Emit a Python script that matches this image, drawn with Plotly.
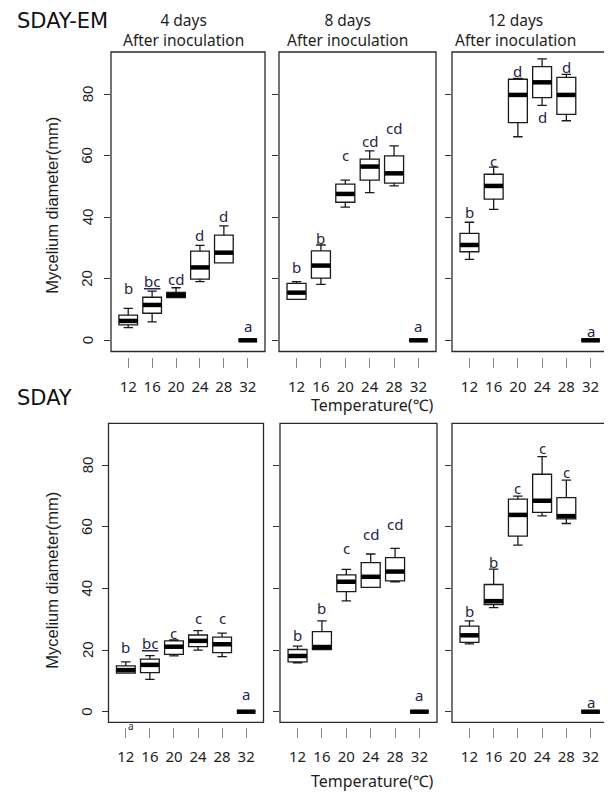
import plotly.graph_objects as go

# page is shown with an 8px body margin; build the figure to fill the visible area
PAGE_W, PAGE_H = 612, 793
OFF = 8
W, H = PAGE_W - OFF, PAGE_H - OFF

positions = [1, 2, 3, 4, 5, 6]
tick_labels = ["12", "16", "20", "24", "28", "32"]
y_ticks = [0, 20, 40, 60, 80]
y_tick_labels = ["0", "20", "40", "60", "80"]

# ---- SDAY-EM ----
em4_low = [4.1, 6.0, 13.9, 19.1, 25.2, 0]
em4_q1 = [5.0, 8.8, 13.9, 19.9, 25.2, 0]
em4_med = [6.3, 11.5, 14.7, 23.7, 28.5, 0]
em4_q3 = [8.2, 14.0, 15.6, 29.0, 34.2, 0]
em4_high = [10.4, 16.0, 17.1, 30.9, 37.2, 0]
em4_letters = ["b", "bc", "cd", "d", "d", "a"]
em4_letter_y = [16.9, 19.4, 19.9, 34.2, 40.5, 4.7]

em8_low = [13.3, 18.2, 43.3, 48.0, 50.2, 0]
em8_q1 = [13.3, 20.2, 44.9, 52.1, 51.1, 0]
em8_med = [15.5, 24.3, 47.6, 56.5, 54.3, 0]
em8_q3 = [18.5, 29.1, 50.8, 58.9, 60.0, 0]
em8_high = [19.1, 31.0, 52.1, 61.6, 63.2, 0]
em8_letters = ["b", "b", "c", "cd", "cd", "a"]
em8_letter_y = [23.9, 33.2, 60.3, 64.9, 68.9, 4.6]

em12_low = [26.3, 42.6, 66.2, 76.4, 71.4, 0]
em12_q1 = [28.8, 45.9, 70.8, 78.9, 73.5, 0]
em12_med = [31.0, 50.2, 79.8, 83.9, 79.8, 0]
em12_q3 = [34.8, 54.0, 84.9, 89.0, 85.5, 0]
em12_high = [38.4, 56.3, 85.2, 91.5, 86.5, 0]
em12_letters = ["b", "c", "d", "d", "d", "a"]
em12_letter_y = [41.8, 58.4, 87.6, 72.5, 89.0, 3.0]

# ---- SDAY ----
sd4_low = [12.5, 10.5, 18.1, 20.0, 17.9, 0]
sd4_q1 = [12.5, 12.7, 18.6, 21.1, 19.2, 0]
sd4_med = [13.5, 15.2, 21.1, 23.0, 21.9, 0]
sd4_q3 = [14.9, 17.1, 23.0, 24.9, 24.2, 0]
sd4_high = [16.2, 18.2, 23.3, 26.3, 25.5, 0]
sd4_letters = ["b", "bc", "c", "c", "c", "a"]
sd4_letter_y = [21.1, 22.4, 25.5, 30.3, 30.3, 5.7]

sd8_low = [15.9, 20.2, 36.0, 40.4, 42.2, 0]
sd8_q1 = [16.2, 20.2, 39.0, 40.4, 42.5, 0]
sd8_med = [18.1, 21.0, 42.2, 43.8, 45.5, 0]
sd8_q3 = [20.2, 26.0, 44.4, 48.4, 50.0, 0]
sd8_high = [21.3, 29.5, 46.2, 51.2, 53.0, 0]
sd8_letters = ["b", "b", "c", "cd", "cd", "a"]
sd8_letter_y = [24.9, 33.8, 53.0, 57.6, 60.8, 5.4]

sd12_low = [22.0, 33.8, 54.1, 63.6, 61.1, 0]
sd12_q1 = [22.5, 34.8, 57.0, 64.7, 62.6, 0]
sd12_med = [24.8, 35.9, 63.9, 68.5, 63.5, 0]
sd12_q3 = [27.8, 41.3, 69.0, 77.1, 69.5, 0]
sd12_high = [29.5, 46.3, 70.0, 82.8, 75.2, 0]
sd12_letters = ["b", "b", "c", "c", "c", "a"]
sd12_letter_y = [32.7, 48.7, 72.5, 85.5, 77.7, 3.2]

panel_titles = ["4 days<br>After inoculation", "8 days<br>After inoculation",
                "12 days<br>After inoculation"]
row_titles = ["SDAY-EM", "SDAY"]
y_title = "Mycelium diameter(mm)"
x_title = "Temperature(℃)"

panels = [
    (em4_low, em4_q1, em4_med, em4_q3, em4_high, em4_letters, em4_letter_y),
    (em8_low, em8_q1, em8_med, em8_q3, em8_high, em8_letters, em8_letter_y),
    (em12_low, em12_q1, em12_med, em12_q3, em12_high, em12_letters, em12_letter_y),
    (sd4_low, sd4_q1, sd4_med, sd4_q3, sd4_high, sd4_letters, sd4_letter_y),
    (sd8_low, sd8_q1, sd8_med, sd8_q3, sd8_high, sd8_letters, sd8_letter_y),
    (sd12_low, sd12_q1, sd12_med, sd12_q3, sd12_high, sd12_letters, sd12_letter_y),
]

# layout geometry in page pixels
x_frames = [[(111, 265), (279, 436), (452, 608)],
            [(108.5, 263.5), (280, 437), (452, 608)]]
y_frames = [(52, 351.5), (423.3, 722.3)]
y_ranges = [(-3.64, 93.76), (-3.44, 93.64)]


def px(x):
    return (x - OFF) / W


def py(y):
    return 1 - (y - OFF) / H


LINE = "#1a1a1a"
TXT = "#1e1e1e"
LETTER = "#25254a"
SANS = "Noto Sans, Open Sans, sans-serif"
ARIAL = "Liberation Sans, Arial, sans-serif"

fig = go.Figure()
layout = {}
annotations = []
shapes = []

for i, (lo, q1, med, q3, hi, letters, ly) in enumerate(panels):
    row, col = divmod(i, 3)
    n = i + 1
    xa = "x" if n == 1 else f"x{n}"
    ya = "y" if n == 1 else f"y{n}"
    xkey = "xaxis" if n == 1 else f"xaxis{n}"
    ykey = "yaxis" if n == 1 else f"yaxis{n}"
    x0, x1 = x_frames[row][col]
    t, b = y_frames[row]

    fig.add_trace(go.Box(
        x=positions, q1=q1, median=med, q3=q3, lowerfence=lo, upperfence=hi,
        xaxis=xa, yaxis=ya, width=0.78, whiskerwidth=0.5,
        line=dict(color=LINE, width=1.3), fillcolor="white",
        boxpoints=False, showlegend=False, hoverinfo="skip",
    ))
    fig.add_trace(go.Scatter(
        x=positions, y=med, xaxis=xa, yaxis=ya, mode="markers",
        marker=dict(symbol="line-ew", size=13.3, color="black",
                    line=dict(color="black", width=4.5)),
        showlegend=False, hoverinfo="skip", cliponaxis=False,
    ))

    layout[xkey] = dict(
        domain=[px(x0), px(x1)], range=[0.28, 6.72],
        tickmode="array", tickvals=positions, ticktext=tick_labels,
        ticks="outside", ticklen=10, tickwidth=1, tickcolor="#8a8a8a",
        showline=False, showgrid=False, zeroline=False,
        anchor="free", position=py(b + 5), ticklabelstandoff=6,
        tickfont=dict(family=SANS, size=15, color=TXT),
    )
    layout[ykey] = dict(
        domain=[py(b), py(t)], range=list(y_ranges[row]),
        anchor=xa, tickmode="array", tickvals=y_ticks,
        ticks="outside", ticklen=6, tickwidth=1, tickcolor="#333333",
        showline=False, showgrid=False, zeroline=False,
        showticklabels=False,
    )
    shapes.append(dict(type="rect", xref=f"{xa} domain", yref=f"{ya} domain",
                       x0=0, x1=1, y0=0, y1=1,
                       line=dict(color="#2a2a2a", width=1.3)))

    if col == 0:
        for v, lab in zip(y_ticks, y_tick_labels):
            annotations.append(dict(x=px(87), y=v, xref="paper", yref=ya,
                                    text=lab, showarrow=False, textangle=-90,
                                    xanchor="center", yanchor="middle",
                                    font=dict(family=ARIAL, size=15, color=TXT)))

    for p, lt, yy in zip(positions, letters, ly):
        txt = lt
        if lt == "bc" and col == 0:
            # spell-checker style wavy red underline seen in the original
            txt = ("<span style='text-decoration:underline wavy #e03030;"
                   "text-decoration-line:underline;text-decoration-style:wavy;"
                   "text-decoration-color:#e03030'>bc</span>")
        annotations.append(dict(x=p, y=yy, xref=xa, yref=ya, text=txt,
                                showarrow=False, xanchor="center", yanchor="middle",
                                borderpad=0,
                                font=dict(family=SANS, size=15, color=LETTER)))

# stray small label below the SDAY 4-day panel
annotations.append(dict(x=px(131), y=py(725.5), xref="paper", yref="paper", text="a",
                        showarrow=False, xanchor="center", yanchor="middle",
                        font=dict(family=SANS, size=10, color=LETTER)))

# panel titles (two lines each)
for cx, txt in zip([183, 347.5, 515], panel_titles):
    annotations.append(dict(x=px(cx), y=py(8.3), xref="paper", yref="paper",
                            text=txt, showarrow=False, xanchor="center",
                            yanchor="top", borderpad=0,
                            font=dict(family=SANS, size=15.5, color=TXT)))

# row titles
for yy, txt in zip([21.5, 398], row_titles):
    annotations.append(dict(x=px(15), y=py(yy), xref="paper", yref="paper",
                            text=txt, showarrow=False, xanchor="left",
                            yanchor="middle",
                            font=dict(family="DejaVu Sans, sans-serif", size=21,
                                      color="#111111")))

# y titles
for yy in [205, 580]:
    annotations.append(dict(x=px(51.7), y=py(yy), xref="paper", yref="paper",
                            text=y_title, showarrow=False, textangle=-90,
                            xanchor="center", yanchor="middle",
                            font=dict(family=ARIAL, size=16.5, color=TXT)))

# x titles
for yy in [405, 781]:
    annotations.append(dict(x=px(372), y=py(yy), xref="paper", yref="paper",
                            text=x_title, showarrow=False,
                            xanchor="center", yanchor="middle",
                            font=dict(family=SANS, size=16, color=TXT)))

fig.update_layout(
    width=W, height=H,
    margin=dict(l=0, r=0, t=0, b=0),
    paper_bgcolor="white", plot_bgcolor="white",
    showlegend=False,
    annotations=annotations, shapes=shapes,
    **layout,
)

fig.write_html("out.html")
